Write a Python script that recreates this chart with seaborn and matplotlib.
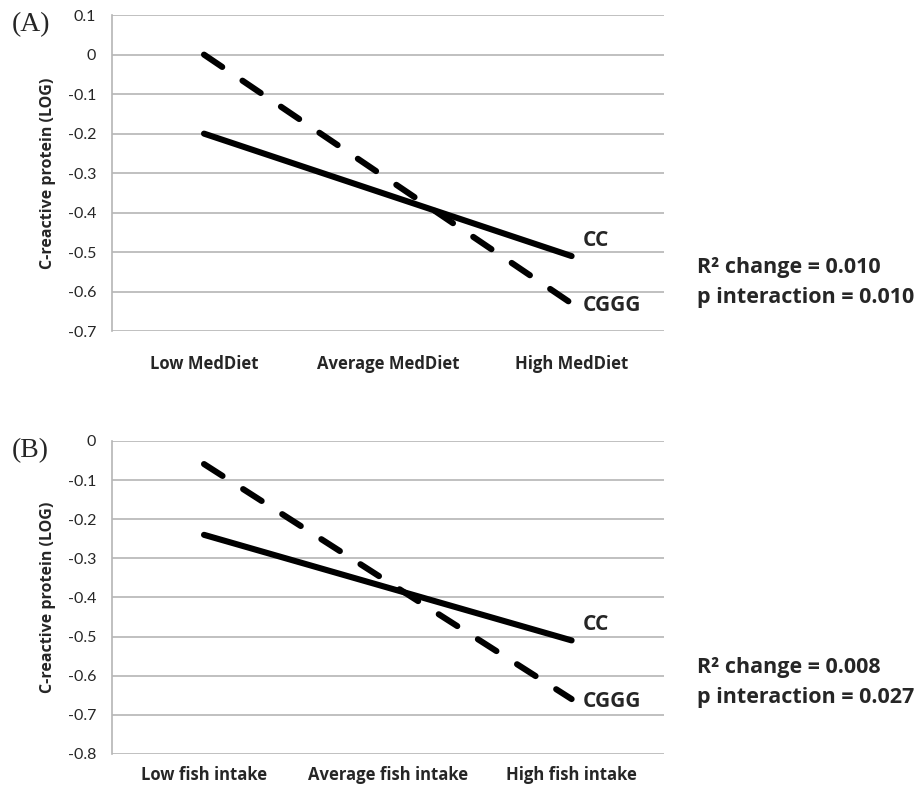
import numpy as np
import pandas as pd
import matplotlib.pyplot as plt
import seaborn as sns

# panel A - MedDiet
medi_cats = ["Low MedDiet", "Average MedDiet", "High MedDiet"]
medi_cc = [-0.20, -0.355, -0.51]
medi_cggg = [0.0, -0.315, -0.63]
medi_ticks = [-0.7, -0.6, -0.5, -0.4, -0.3, -0.2, -0.1, 0.0, 0.1]
medi_stats = ["R\u00b2 change = 0.010", "p interaction = 0.010"]

# panel B - fish intake
fish_cats = ["Low fish intake", "Average fish intake", "High fish intake"]
fish_cc = [-0.24, -0.375, -0.51]
fish_cggg = [-0.059, -0.36, -0.66]
fish_ticks = [-0.8, -0.7, -0.6, -0.5, -0.4, -0.3, -0.2, -0.1, 0.0]
fish_stats = ["R\u00b2 change = 0.008", "p interaction = 0.027"]

sns.set_style("white")
plt.rcParams['font.family'] = ['Open Sans', 'DejaVu Sans']

GRID = "#b5b5b5"
BOLD = dict(family="Open Sans", fontweight="bold")


def panel(ax, cats, cc, cggg, yticks, tag, xpad):
    df = pd.DataFrame({
        "cat": cats * 2,
        "crp": cc + cggg,
        "geno": ["CC"] * 3 + ["CGGG"] * 3,
    })
    sns.lineplot(data=df, x="cat", y="crp", hue="geno", style="geno",
                 palette={"CC": "black", "CGGG": "black"},
                 dashes={"CC": "", "CGGG": (3.6, 4.0)},
                 linewidth=4.4, legend=False, ax=ax)
    for ln in ax.lines:
        ln.set_solid_capstyle("round")
        ln.set_dash_capstyle("round")
    ax.set_xlim(-0.5, 2.5)
    ax.set_ylim(yticks[0], yticks[-1])
    ax.set_yticks(yticks)
    ax.set_yticklabels(["0" if t == 0 else "%g" % t for t in yticks],
                       fontsize=11.5, family="Lato")
    ax.yaxis.grid(True, color=GRID, linewidth=1.2)
    ax.set_axisbelow(True)
    for s in ["top", "right", "bottom"]:
        ax.spines[s].set_visible(False)
    ax.spines["left"].set_color(GRID)
    ax.spines["left"].set_linewidth(1.2)
    ax.tick_params(axis="y", length=3.6, color=GRID, width=1.2, pad=8)
    ax.tick_params(axis="x", length=0, pad=xpad)
    for lab in ax.get_xticklabels():
        lab.set_fontweight("bold")
        lab.set_fontsize(12)
    ax.set_xlabel("")
    ax.set_ylabel("C-reactive protein (LOG)", fontsize=11.5, labelpad=8, **BOLD)
    # series labels at right end
    ax.text(2.06, cc[-1] + 0.04, "CC", fontsize=15, va="center", **BOLD)
    ax.text(2.06, cggg[-1] - 0.005, "CGGG", fontsize=15, va="center", **BOLD)
    ax.text(-0.182, 0.97, tag, transform=ax.transAxes, fontsize=20,
            family="Liberation Serif", va="center", ha="left")


fig = plt.figure(figsize=(9.19, 7.96), dpi=100)
axA = fig.add_axes([0.122, 0.584, 0.6, 0.397])
axB = fig.add_axes([0.122, 0.053, 0.6, 0.393])

panel(axA, medi_cats, medi_cc, medi_cggg, medi_ticks, "(A)", 17)
panel(axB, fish_cats, fish_cc, fish_cggg, fish_ticks, "(B)", 9)

for i, s in enumerate(medi_stats):
    fig.text(697 / 919, 1 - (268 + 30 * i) / 796, s, fontsize=15.5, va="center", **BOLD)
for i, s in enumerate(fish_stats):
    fig.text(697 / 919, 1 - (667 + 30 * i) / 796, s, fontsize=15.5, va="center", **BOLD)

fig.savefig("out.png", dpi=100)
